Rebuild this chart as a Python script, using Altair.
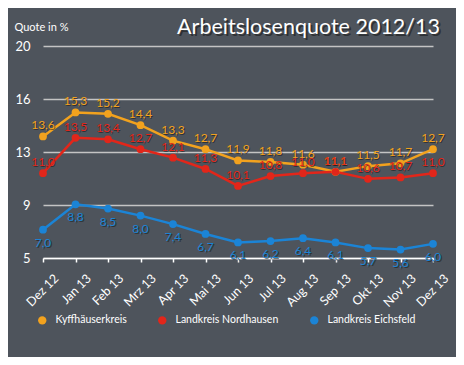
import altair as alt
import pandas as pd

months = ["Dez 12", "Jan 13", "Feb 13", "Mrz 13", "Apr 13", "Mai 13", "Jun 13",
          "Jul 13", "Aug 13", "Sep 13", "Okt 13", "Nov 13", "Dez 13"]
series = ["Kyffhäuserkreis", "Landkreis Nordhausen", "Landkreis Eichsfeld"]
kyff = [13.6, 15.3, 15.2, 14.4, 13.3, 12.7, 11.9, 11.8, 11.6, 11.1, 11.5, 11.7, 12.7]
nord = [11.0, 13.5, 13.4, 12.7, 12.1, 11.3, 10.1, 10.8, 11.0, 11.1, 10.6, 10.7, 11.0]
eichs = [7.0, 8.8, 8.5, 8.0, 7.4, 6.7, 6.1, 6.2, 6.4, 6.1, 5.7, 5.6, 6.0]
colors = ["#f2a21e", "#e2261a", "#1b84d6"]
y_ticks = [5, 8.75, 12.5, 16.25, 20]
title_text = "Arbeitslosenquote 2012/13"

rows = []
for name, vals in zip(series, [kyff, nord, eichs]):
    for m, v in zip(months, vals):
        rows.append({"month": m, "series": name, "value": v,
                     "label": f"{v:.1f}".replace(".", ",")})
df = pd.DataFrame(rows)

FONT = "Lato"
BG = "#4e545c"

x = alt.X("month:O", sort=months,
          scale=alt.Scale(type="point", padding=0),
          axis=alt.Axis(labelAngle=-45, labelAlign="right", labelBaseline="middle",
                        labelColor="white", labelFontSize=12.5, labelPadding=14,
                        labelOffset=13, labelFont=FONT,
                        tickColor="white", tickSize=4, tickWidth=1.5,
                        domain=True, domainColor="white", domainWidth=1.5,
                        grid=False, title=None))
y = alt.Y("value:Q",
          scale=alt.Scale(domain=[5, 20], nice=False, zero=False),
          axis=alt.Axis(values=y_ticks, format=".0f", labelColor="white",
                        labelFontSize=13, labelPadding=13, labelFont=FONT,
                        domain=False, ticks=False,
                        gridColor="#c4c4c4", gridWidth=1.5,
                        title="Quote in %", titleAngle=0, titleAlign="left",
                        titleBaseline="alphabetic", titleX=-29, titleY=-16,
                        titleColor="white", titleFontSize=11,
                        titleFontWeight="normal", titleFont=FONT))
color = alt.Color("series:N", scale=alt.Scale(domain=series, range=colors),
                  sort=series,
                  legend=alt.Legend(orient="none", legendX=-6, legendY=269,
                                    direction="horizontal", title=None,
                                    symbolType="circle", symbolSize=70,
                                    symbolStrokeWidth=0, symbolOpacity=1,
                                    labelColor="white",
                                    labelFontSize=10.5, labelFont=FONT,
                                    columnPadding=30, labelOffset=8))

base = alt.Chart(df)

lines = base.mark_line(strokeWidth=2.5).encode(
    x=x, y=y, color=color, detail="series:N")

points = base.mark_circle(size=60, opacity=1).encode(x=x, y=y, color=color)

top_df = base.transform_filter(alt.datum.series != "Landkreis Eichsfeld")
bot_df = base.transform_filter(alt.datum.series == "Landkreis Eichsfeld")

top_shadow = top_df.mark_text(dy=-10, dx=1, fontSize=12, font=FONT, color="#1a1a1a",
                              opacity=0.6).encode(x=x, y=y, text="label:N")
top_text = top_df.mark_text(dy=-11, fontSize=12, font=FONT).encode(
    x=x, y=y, text="label:N", color=color)
bot_shadow = bot_df.mark_text(dy=14, dx=1, fontSize=12, font=FONT, color="#1a1a1a",
                              opacity=0.6).encode(x=x, y=y, text="label:N")
bot_text = bot_df.mark_text(dy=13, fontSize=12, font=FONT).encode(
    x=x, y=y, text="label:N", color=color)

tdf = alt.Chart(pd.DataFrame({"t": [title_text]}))
title_shadow = tdf.mark_text(align="right", baseline="alphabetic", fontSize=21.5,
                             font=FONT, color="#1a1a1a", opacity=0.6).encode(
    x=alt.value(399), y=alt.value(-10), text="t:N")
title_mark = tdf.mark_text(align="right", baseline="alphabetic", fontSize=21.5,
                           font=FONT, color="white").encode(
    x=alt.value(397), y=alt.value(-12), text="t:N")

chart = alt.layer(lines, points, top_shadow, top_text, bot_shadow, bot_text,
                  title_shadow, title_mark).properties(
    width=390, height=212,
    autosize=alt.AutoSizeParams(type="none"),
    padding={"left": 35, "top": 38, "right": 23, "bottom": 99},
).configure(background=BG).configure_view(stroke=None)

chart.save("out.html", embed_options={"renderer": "svg", "actions": False})
